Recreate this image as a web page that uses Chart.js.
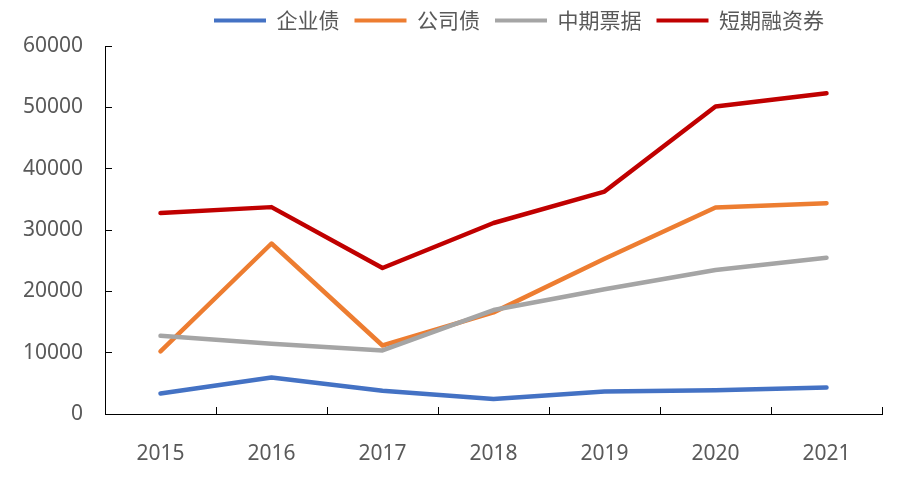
<!DOCTYPE html>
<html>
<head>
<meta charset="utf-8">
<script src="https://cdn.jsdelivr.net/npm/chart.js@4.4.0/dist/chart.umd.min.js"></script>
<style>
  html, body { margin: 0; padding: 0; background: #fff; }
  #contenedor { width: 911px; height: 480px; }
</style>
</head>
<body>
<div id="contenedor"><canvas id="grafico"></canvas></div>
<script>
let anhos = ["2015", "2016", "2017", "2018", "2019", "2020", "2021"]
let nombresSeries = ["企业债", "公司债", "中期票据", "短期融资券"]
let qiyezhai = [3350, 5950, 3780, 2430, 3670, 3890, 4320]
let gongsizhai = [10200, 27800, 11170, 16570, 25300, 33680, 34380]
let zhongqiPiaoju = [12740, 11450, 10360, 16950, 20350, 23480, 25480]
let duanqiRongzi = [32760, 33730, 23800, 31140, 36270, 50150, 52300]
let ejeYMin = 0
let ejeYMax = 60000
let ejeYPaso = 10000

let colores = ["#4472C4", "#ED7D31", "#A5A5A5", "#C00000"]
let valores = [qiyezhai, gongsizhai, zhongqiPiaoju, duanqiRongzi]

// Excel dibuja la ultima serie encima, asi que invertimos el orden de dibujo
let datasets = valores.map((serie, i) => ({
    label: nombresSeries[i],
    data: serie,
    borderColor: colores[i],
    backgroundColor: colores[i],
    borderWidth: 4.5,
    borderCapStyle: "round",
    borderJoinStyle: "round",
    pointRadius: 0,
    tension: 0,
    order: valores.length - i
}))

// mueve la leyenda a donde esta en la imagen original
let moverLeyenda = {
    id: "moverLeyenda",
    afterLayout(chart) {
        let ley = chart.legend
        let dx = 199 - ley.left
        let dy = -5
        ley.left += dx
        ley.right += dx
        ley.top += dy
        ley.bottom += dy
    }
}

window.addEventListener("DOMContentLoaded", () => {
    let ctx = document.getElementById("grafico").getContext("2d")

    new Chart(ctx, {
        type: "line",
        data: {
            labels: anhos,
            datasets: datasets
        },
        plugins: [moverLeyenda],
        options: {
            responsive: true,
            maintainAspectRatio: false,
            animation: false,
            layout: {
                padding: { left: 0, right: 29, top: 0, bottom: 0 }
            },
            plugins: {
                legend: {
                    display: true,
                    position: "top",
                    align: "start",
                    labels: {
                        boxWidth: 52,
                        boxHeight: 4,
                        padding: 15,
                        color: "#595959",
                        font: { family: "'Noto Sans CJK SC'", size: 21 },
                        generateLabels: (chart) => {
                            let items = Chart.defaults.plugins.legend.labels.generateLabels(chart)
                            items.forEach(it => { it.lineWidth = 0 })
                            return items.sort((a, b) => a.datasetIndex - b.datasetIndex)
                        }
                    }
                },
                tooltip: { enabled: false }
            },
            scales: {
                x: {
                    offset: true,
                    afterFit: (escala) => { escala.height = 66 },
                    border: { display: true, color: "#000", width: 1 },
                    grid: {
                        display: true,
                        offset: true,
                        drawOnChartArea: false,
                        drawTicks: true,
                        tickLength: -7,
                        color: "#000"
                    },
                    ticks: {
                        padding: 34,
                        color: "#595959",
                        font: { family: "'Noto Sans'", size: 21 }
                    }
                },
                y: {
                    min: ejeYMin,
                    max: ejeYMax,
                    afterFit: (escala) => { escala.width = 105 },
                    border: { display: true, color: "#000", width: 1 },
                    grid: {
                        display: true,
                        drawOnChartArea: false,
                        drawTicks: true,
                        tickLength: -7,
                        color: "#000"
                    },
                    ticks: {
                        stepSize: ejeYPaso,
                        padding: 29,
                        color: "#595959",
                        font: { family: "'Noto Sans'", size: 21 },
                        callback: (valor) => String(valor)
                    }
                }
            }
        }
    })
})
</script>
</body>
</html>
